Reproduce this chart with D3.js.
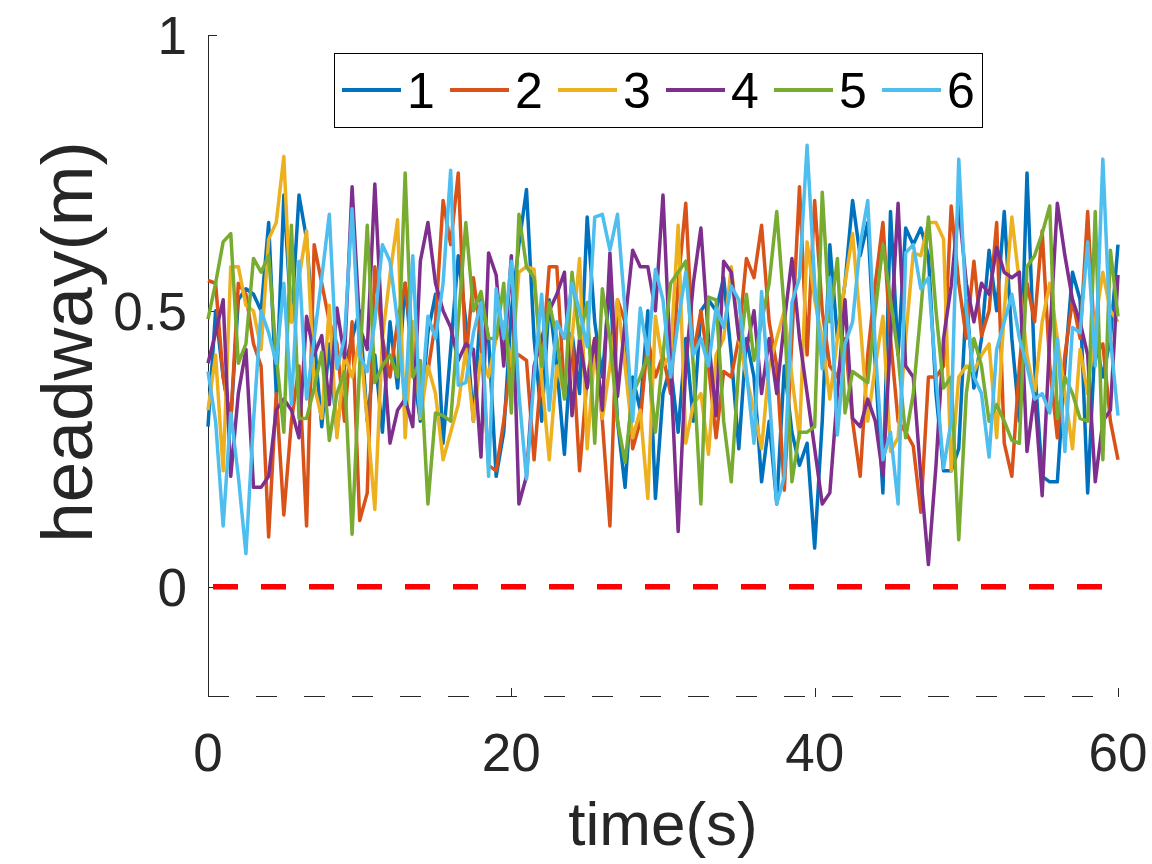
<!DOCTYPE html>
<html>
<meta charset="utf-8">
<style>

body {
  margin: 0;
  background: #fff;
}

svg {
  font-family: "Liberation Sans", Arial, Helvetica, sans-serif;
}

.axis line,
.axis path {
  fill: none;
  stroke: #262626;
  stroke-width: 1px;
  shape-rendering: crispEdges;
}

.tick-label {
  fill: #262626;
  font-size: 53px;
}

.label {
  fill: #262626;
  font-size: 62px;
}

.ylabel {
  font-size: 73px;
}

.series {
  fill: none;
  stroke-width: 3.5px;
  stroke-linejoin: round;
}

.zero {
  stroke: #ff0000;
  stroke-width: 5.5px;
  stroke-dasharray: 25, 23;
}

.legend rect {
  fill: #fff;
  stroke: #000;
  stroke-width: 1px;
  shape-rendering: crispEdges;
}

.legend text {
  fill: #000;
  font-size: 50px;
}

</style>
<body>
<script src="https://d3js.org/d3.v7.min.js"></script>
<script>

// headway of the six followers, sampled every 0.5 s from 0 to 60 s
var sampleStep = 0.5;

var names = ["1", "2", "3", "4", "5", "6"];

var colors = ["#0072bd", "#d95319", "#edb120", "#7e2f8e", "#77ac30", "#4dbeee"];

var headway1 = [
  0.29, 0.50, 0.38, 0.30, 0.52, 0.54, 0.53, 0.50, 0.66, 0.35,
  0.71, 0.48, 0.71, 0.63, 0.45, 0.29, 0.44, 0.28, 0.40, 0.45,
  0.50, 0.30, 0.42, 0.28, 0.48, 0.36, 0.55, 0.40, 0.30, 0.46,
  0.53, 0.26, 0.43, 0.60, 0.48, 0.30, 0.52, 0.45, 0.20, 0.28,
  0.50, 0.62, 0.72, 0.45, 0.30, 0.52, 0.40, 0.24, 0.46, 0.35,
  0.67, 0.48, 0.38, 0.55, 0.30, 0.18, 0.38, 0.32, 0.50, 0.16,
  0.35, 0.40, 0.28, 0.45, 0.30, 0.50, 0.52, 0.50, 0.56, 0.42,
  0.25, 0.45, 0.38, 0.19, 0.30, 0.15, 0.40, 0.28, 0.22, 0.26,
  0.07, 0.30, 0.62, 0.45, 0.55, 0.70, 0.60, 0.66, 0.40, 0.17,
  0.68, 0.42, 0.65, 0.62, 0.65, 0.60, 0.35, 0.21, 0.21, 0.25,
  0.52, 0.36, 0.45, 0.61, 0.50, 0.68, 0.45, 0.30, 0.75, 0.40,
  0.20, 0.19, 0.19, 0.40, 0.57, 0.52, 0.17, 0.45, 0.38, 0.45,
  0.62
];

var headway2 = [
  0.555, 0.55, 0.38, 0.30, 0.55, 0.53, 0.44, 0.40, 0.09, 0.35,
  0.13, 0.30, 0.40, 0.11, 0.62, 0.55, 0.48, 0.44, 0.30, 0.48,
  0.12, 0.17, 0.58, 0.45, 0.38, 0.48, 0.55, 0.42, 0.35, 0.39,
  0.48, 0.70, 0.62, 0.75, 0.41, 0.56, 0.45, 0.22, 0.21, 0.30,
  0.42, 0.42, 0.41, 0.23, 0.40, 0.58, 0.58, 0.35, 0.45, 0.21,
  0.38, 0.45, 0.30, 0.11, 0.52, 0.48, 0.25, 0.30, 0.45, 0.38,
  0.42, 0.35, 0.55, 0.695, 0.42, 0.50, 0.40, 0.27, 0.39, 0.38,
  0.45, 0.595, 0.56, 0.655, 0.48, 0.40, 0.175, 0.45, 0.725, 0.42,
  0.70, 0.50, 0.40, 0.38, 0.45, 0.30, 0.20, 0.42, 0.55, 0.66,
  0.45, 0.30, 0.28, 0.255, 0.135, 0.38, 0.38, 0.40, 0.69, 0.55,
  0.45, 0.59, 0.455, 0.50, 0.66, 0.26, 0.20, 0.40, 0.55, 0.48,
  0.645, 0.40, 0.27, 0.42, 0.52, 0.45, 0.68, 0.42, 0.44, 0.30,
  0.23
];

var headway3 = [
  0.32, 0.42, 0.21, 0.58, 0.58, 0.51, 0.50, 0.43, 0.63, 0.66,
  0.78, 0.48, 0.56, 0.645, 0.365, 0.305, 0.51, 0.27, 0.42, 0.38,
  0.45, 0.30, 0.14, 0.45, 0.565, 0.665, 0.27, 0.48, 0.305, 0.40,
  0.35, 0.23, 0.28, 0.33, 0.43, 0.30, 0.42, 0.38, 0.45, 0.48,
  0.40, 0.57, 0.58, 0.575, 0.38, 0.23, 0.40, 0.35, 0.45, 0.595,
  0.25, 0.43, 0.305, 0.40, 0.52, 0.40, 0.27, 0.32, 0.16, 0.49,
  0.40, 0.42, 0.655, 0.26, 0.33, 0.35, 0.24, 0.42, 0.45, 0.58,
  0.45, 0.38, 0.32, 0.25, 0.40, 0.45, 0.50, 0.38, 0.27, 0.625,
  0.52, 0.45, 0.34, 0.45, 0.55, 0.64, 0.48, 0.30, 0.40, 0.49,
  0.245, 0.27, 0.45, 0.605, 0.60, 0.66, 0.66, 0.63, 0.21, 0.38,
  0.40, 0.39, 0.42, 0.44, 0.27, 0.50, 0.67, 0.55, 0.42, 0.35,
  0.48, 0.55, 0.45, 0.35, 0.25, 0.43, 0.35, 0.48, 0.57, 0.50,
  0.48
];

var headway4 = [
  0.405, 0.46, 0.52, 0.20, 0.35, 0.43, 0.18, 0.18, 0.20, 0.32,
  0.34, 0.32, 0.27, 0.49, 0.42, 0.455, 0.33, 0.505, 0.415, 0.725,
  0.47, 0.43, 0.73, 0.45, 0.26, 0.32, 0.34, 0.29, 0.59, 0.66,
  0.55, 0.50, 0.47, 0.41, 0.44, 0.43, 0.235, 0.605, 0.565, 0.40,
  0.60, 0.15, 0.20, 0.40, 0.45, 0.50, 0.53, 0.57, 0.31, 0.45,
  0.36, 0.45, 0.32, 0.605, 0.345, 0.48, 0.61, 0.58, 0.58, 0.50,
  0.71, 0.40, 0.10, 0.40, 0.55, 0.65, 0.45, 0.31, 0.59, 0.57,
  0.45, 0.43, 0.50, 0.35, 0.45, 0.35, 0.48, 0.595, 0.45, 0.35,
  0.25, 0.15, 0.17, 0.35, 0.52, 0.305, 0.29, 0.34, 0.30, 0.20,
  0.45, 0.695, 0.40, 0.38, 0.20, 0.04, 0.22, 0.45, 0.545, 0.69,
  0.55, 0.48, 0.55, 0.53, 0.615, 0.57, 0.56, 0.57, 0.245, 0.35,
  0.165, 0.45, 0.695, 0.60, 0.52, 0.48, 0.42, 0.19, 0.30, 0.32,
  0.565
];

var headway5 = [
  0.485, 0.55, 0.625, 0.64, 0.405, 0.44, 0.595, 0.57, 0.60, 0.42,
  0.28, 0.655, 0.305, 0.305, 0.36, 0.425, 0.265, 0.35, 0.39, 0.095,
  0.40, 0.655, 0.37, 0.40, 0.42, 0.38, 0.75, 0.38, 0.41, 0.15,
  0.315, 0.31, 0.30, 0.48, 0.66, 0.50, 0.535, 0.45, 0.45, 0.55,
  0.315, 0.675, 0.58, 0.56, 0.40, 0.515, 0.45, 0.34, 0.57, 0.45,
  0.515, 0.26, 0.54, 0.45, 0.30, 0.225, 0.35, 0.38, 0.42, 0.28,
  0.42, 0.55, 0.57, 0.59, 0.40, 0.15, 0.525, 0.52, 0.30, 0.19,
  0.40, 0.53, 0.41, 0.48, 0.55, 0.68, 0.50, 0.19, 0.28, 0.28,
  0.29, 0.715, 0.48, 0.595, 0.315, 0.39, 0.38, 0.37, 0.50, 0.62,
  0.52, 0.42, 0.27, 0.35, 0.50, 0.67, 0.50, 0.36, 0.38, 0.085,
  0.35, 0.45, 0.40, 0.30, 0.33, 0.30, 0.265, 0.26, 0.58, 0.60,
  0.64, 0.69, 0.305, 0.38, 0.35, 0.305, 0.30, 0.68, 0.23, 0.61,
  0.49
];

var headway6 = [
  0.39, 0.30, 0.11, 0.315, 0.20, 0.06, 0.30, 0.50, 0.46, 0.405,
  0.55, 0.33, 0.59, 0.34, 0.45, 0.56, 0.675, 0.395, 0.45, 0.685,
  0.42, 0.39, 0.48, 0.62, 0.59, 0.48, 0.33, 0.60, 0.31, 0.49,
  0.45, 0.55, 0.755, 0.365, 0.37, 0.46, 0.515, 0.20, 0.54, 0.45,
  0.59, 0.35, 0.195, 0.38, 0.53, 0.32, 0.48, 0.45, 0.55, 0.50,
  0.435, 0.67, 0.675, 0.61, 0.675, 0.50, 0.30, 0.505, 0.42, 0.575,
  0.52, 0.38, 0.48, 0.57, 0.42, 0.45, 0.40, 0.505, 0.47, 0.545,
  0.52, 0.39, 0.26, 0.535, 0.35, 0.15, 0.20, 0.515, 0.56, 0.80,
  0.55, 0.395, 0.56, 0.275, 0.44, 0.48, 0.62, 0.70, 0.43, 0.23,
  0.28, 0.15, 0.605, 0.62, 0.54, 0.56, 0.38, 0.215, 0.30, 0.775,
  0.50, 0.38, 0.35, 0.235, 0.43, 0.48, 0.53, 0.45, 0.40, 0.34,
  0.35, 0.315, 0.45, 0.245, 0.47, 0.46, 0.625, 0.40, 0.775, 0.45,
  0.31
];

var xTicks = [0, 20, 40, 60];
var yTicks = [0, 0.5, 1];

var series = [headway1, headway2, headway3, headway4, headway5, headway6];

var svg = d3.select("body").append("svg")
    .attr("width", 1152)
    .attr("height", 864);

var x = d3.scaleLinear()
    .domain([0, 60])
    .range([208, 1118]);

var y = d3.scaleLinear()
    .domain([-0.2, 1])
    .range([697, 35]);

var line = d3.line()
    .x(function(d, i) { return x(i * sampleStep); })
    .y(function(d) { return y(d); });

// left axis: solid, ticks pointing inward
var yAxis = svg.append("g").attr("class", "axis");

yAxis.append("line")
    .attr("x1", x(0) + 0.5)
    .attr("x2", x(0) + 0.5)
    .attr("y1", y(1))
    .attr("y2", y(-0.2));

yAxis.selectAll(".ytick")
    .data(yTicks)
  .enter().append("line")
    .attr("class", "ytick")
    .attr("x1", x(0))
    .attr("x2", x(0) + 9)
    .attr("y1", function(d) { return Math.round(y(d)) + 0.5; })
    .attr("y2", function(d) { return Math.round(y(d)) + 0.5; });

svg.selectAll(".ylab")
    .data(yTicks)
  .enter().append("text")
    .attr("class", "tick-label")
    .attr("x", 187)
    .attr("y", function(d) { return y(d); })
    .attr("dy", "0.36em")
    .attr("text-anchor", "end")
    .text(function(d) { return d3.format("")(d); });

// bottom axis comes out dashed in the reference
var xAxis = svg.append("g").attr("class", "axis");

xAxis.append("line")
    .attr("x1", x(0))
    .attr("x2", x(60) + 1)
    .attr("y1", y(-0.2) - 0.5)
    .attr("y2", y(-0.2) - 0.5)
    .style("stroke-dasharray", "21, 27");

xAxis.selectAll(".xtick")
    .data(xTicks)
  .enter().append("line")
    .attr("class", "xtick")
    .attr("x1", function(d) { return Math.round(x(d)) + 0.5; })
    .attr("x2", function(d) { return Math.round(x(d)) + 0.5; })
    .attr("y1", y(-0.2))
    .attr("y2", y(-0.2) - 9);

svg.selectAll(".xlab")
    .data(xTicks)
  .enter().append("text")
    .attr("class", "tick-label")
    .attr("x", function(d) { return x(d); })
    .attr("y", 771)
    .attr("text-anchor", "middle")
    .text(function(d) { return d; });

svg.append("text")
    .attr("class", "label")
    .attr("x", 663)
    .attr("y", 845)
    .attr("text-anchor", "middle")
    .text("time(s)");

svg.append("text")
    .attr("class", "label ylabel")
    .attr("transform", "translate(92,342) rotate(-90)")
    .attr("text-anchor", "middle")
    .text("headway(m)");

// data
svg.selectAll(".series")
    .data(series)
  .enter().append("path")
    .attr("class", "series")
    .attr("stroke", function(d, i) { return colors[i]; })
    .attr("d", line);

svg.append("line")
    .attr("class", "zero")
    .attr("x1", x(0) + 5)
    .attr("x2", x(60))
    .attr("y1", y(0))
    .attr("y2", y(0));

// legend
var legend = svg.append("g").attr("class", "legend");

legend.append("rect")
    .attr("x", 334.5)
    .attr("y", 53.5)
    .attr("width", 648)
    .attr("height", 74);

var item = legend.selectAll(".item")
    .data(names)
  .enter().append("g")
    .attr("class", "item")
    .attr("transform", function(d, i) { return "translate(" + (342 + i * 108) + ",90)"; });

item.append("line")
    .attr("x2", 59)
    .attr("stroke", function(d, i) { return colors[i]; })
    .attr("stroke-width", 4);

item.append("text")
    .attr("x", 65)
    .attr("dy", "0.36em")
    .text(function(d) { return d; });

</script>
</body>
</html>
